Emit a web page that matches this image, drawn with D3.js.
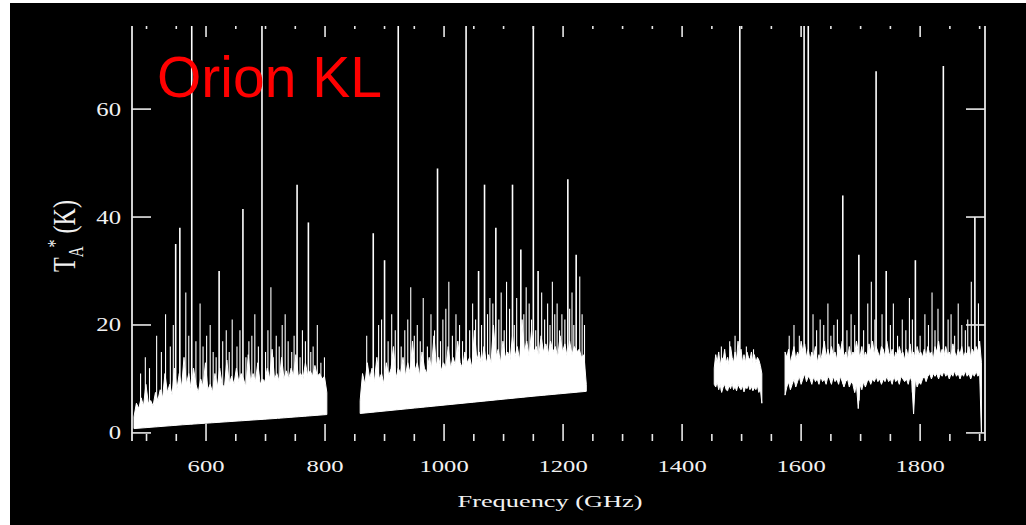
<!DOCTYPE html>
<html><head><meta charset="utf-8">
<script src="https://cdn.jsdelivr.net/npm/d3@7"></script>
<style>
html,body{margin:0;padding:0;background:#fff;}
svg{display:block;}
</style></head>
<body>
<svg id="chart" width="1026" height="525"></svg>
<script>
// ---------------- data ----------------
const chartTitle = "Orion KL";
const xTitle = "Frequency (GHz)";
const xMajorTicks = [600, 800, 1000, 1200, 1400, 1600, 1800];
const xMinorTicks = [500, 550, 650, 700, 750, 850, 900, 950, 1050, 1100, 1150, 1250, 1300, 1350, 1450, 1500, 1550, 1650, 1700, 1750, 1850, 1900];
const yTicks = [0, 20, 40, 60];
const freqDomain = [475.6, 1909];   // GHz
const tempDomain = [-1.5, 75.4];    // K

// Band 1 (≈480–800 GHz): line-forest envelope on a regular channel grid
const band1Start = 479, band1Step = 4;
const band1Top = [3, 5.5, 4.5, 6.5, 5, 9, 5.5, 6, 5, 7.5, 6, 8, 6.5, 11, 7.5, 9, 7, 12, 8, 11,
  8.5, 14, 9, 11, 8, 12, 9, 7.5, 10, 8.5, 13, 8, 9, 7.5, 11, 8.5, 12, 9, 8.5, 13.5,
  9, 10.5, 9, 12, 9.5, 11, 10, 8.5, 14.5, 9.5, 11, 9.5, 13, 9, 10, 9.5, 12, 10, 15.5, 10,
  11, 9.5, 14, 10, 11.5, 10, 12, 10.5, 14.5, 10.5, 11, 10, 13, 10.5, 11.5, 10.5, 12.5, 10.5, 11, 10,
  10.5, 7.5];
const band1Base = [[479, 0.8], [560, 1.5], [640, 2.1], [720, 2.7], [803, 3.4]];
const band1Lines = [[490, 11], [498, 14], [505, 12], [517, 18], [525, 15], [532, 22], [540, 16], [545, 20],
  [549, 35], [556, 38], [566, 26], [571, 18], [576, 120], [583, 17], [590, 24], [595, 16], [601, 18],
  [607, 20], [612, 15], [617, 14], [622, 30], [628, 17], [634, 19], [639, 15], [644, 21], [652, 16],
  [657, 19], [662, 41.5], [667, 14], [672, 17], [677, 18], [682, 22], [688, 16], [694, 120], [700, 15],
  [704, 19], [709, 27], [713, 14], [718, 18], [723, 16], [728, 20], [733, 22], [738, 17], [744, 15],
  [748, 18], [753, 46], [758, 14], [762, 19], [767, 17], [772, 39], [776, 15], [780, 16], [787, 20],
  [793, 13], [799, 14]];

// Band 2 (≈860–1240 GHz)
const band2Start = 859, band2Step = 4;
const band2Top = [6, 11, 9, 13, 10, 12, 9.5, 14, 10, 11, 9, 13, 10.5, 12, 16, 10, 12, 11, 14, 10.5,
  13, 11, 17, 11.5, 13, 10.5, 15, 12, 11, 14, 12, 18, 12.5, 14, 11.5, 13, 12, 16, 12, 14,
  12.5, 17, 13, 12, 15, 13, 14, 12, 19, 13.5, 15, 12.5, 16, 13, 14.5, 13, 20, 14, 15.5, 13,
  17, 14, 15, 13.5, 18, 14, 16, 13.5, 21, 15, 17, 14, 19, 15, 16, 14, 18, 15, 16.5, 14.5,
  17, 15, 16, 14, 18, 15, 16.5, 14, 17, 14.5, 16, 15, 15.5, 14, 14.5, 9];
const band2Base = [[859, 3.6], [950, 4.6], [1050, 5.7], [1150, 6.8], [1239, 7.7]];
const band2Lines = [[870, 18], [881, 37], [890, 20], [895, 21], [900, 32], [906, 17], [912, 22], [918, 19],
  [923, 120], [928, 16], [934, 19], [939, 21], [944, 27], [950, 18], [955, 20], [960, 17], [965, 25],
  [972, 16], [978, 22], [984, 19], [989, 49], [994, 17], [998, 21], [1003, 23], [1008, 28], [1014, 18],
  [1020, 22], [1026, 20], [1031, 17], [1037, 120], [1043, 19], [1048, 24], [1053, 21], [1058, 30],
  [1063, 20], [1068, 46], [1073, 22], [1077, 25], [1082, 24], [1087, 38], [1092, 21], [1096, 26],
  [1101, 19], [1105, 28], [1110, 23], [1115, 46], [1118, 20], [1122, 25], [1129, 34], [1134, 22],
  [1138, 27], [1143, 24], [1147, 21], [1150, 120], [1154, 19], [1158, 30], [1164, 26], [1169, 21],
  [1174, 24], [1178, 20], [1182, 28], [1186, 22], [1190, 24], [1194, 19], [1198, 22], [1203, 21],
  [1208, 47], [1211, 23], [1215, 26], [1218, 20], [1222, 33], [1228, 29], [1232, 22], [1236, 20]];

// Band 3 (≈1455–1535 GHz): upper and lower noise envelopes
const band3Start = 1454, band3Step = 2.5;
const band3Top = [12, 14.5, 13, 15, 12.5, 14, 13.5, 15.5, 13, 14, 12.5, 16, 14, 13, 15, 13.5, 17, 14,
  15.5, 13, 14.5, 13, 15, 14, 13.5, 15, 13, 14.5, 13, 14, 13.5, 12.5, 11];
const band3Bottom = [9, 8.5, 9.5, 8, 9, 7.5, 8.5, 9, 8, 7.8, 8.8, 8.2, 9.2, 8, 8.6, 7.8, 9, 8.4,
  8, 8.8, 7.6, 8.5, 8.2, 9, 8, 8.6, 7.8, 8.4, 8, 8.8, 7.5, 8.2, 5.5];
const band3Lines = [[1466, 16], [1480, 17], [1489, 18], [1497, 120], [1508, 16], [1520, 15.5]];

// Band 4 (≈1575–1905 GHz)
const band4Start = 1573, band4Step = 3;
const band4Top = [15, 14, 15.5, 13, 14.5, 16, 13.5, 15, 14, 17, 15, 16.5, 14, 15.5, 13.5, 15, 14, 16, 13, 14.5,
  13.5, 15, 17, 14, 15.5, 14, 16, 14.5, 15, 13.5, 16.5, 15, 17, 14, 15, 13.5, 16, 14, 15, 14.5,
  17, 15, 14, 16, 13.5, 15, 14, 16.5, 15, 17, 14.5, 16, 15, 14, 16, 15.5, 14, 17, 15, 14,
  15.5, 13.5, 15, 14, 16, 14.5, 15, 13.5, 15.5, 14, 16.5, 14, 15, 13.5, 16, 14.5, 15, 14, 15.5, 14,
  16, 14.5, 15, 13.5, 16, 15, 17, 14.5, 15.5, 14, 16, 14.5, 15, 14, 16.5, 15, 14, 15.5, 14.5, 16,
  14, 15, 14.5, 16, 14, 15.5, 14.5, 16, 15, 17, 13];
const band4Bottom = [7, 8.5, 9.5, 8, 9, 10, 8.5, 9.5, 10.5, 9, 10, 11, 9.5, 10.5, 10, 9, 10.5, 9.5, 10, 9,
  10.5, 9.5, 10, 9, 10.5, 10, 9, 10.5, 9.5, 10, 9, 10.5, 9.5, 8.5, 9.5, 10, 8.5, 9.5, 9, 7.5,
  9, 4.5, 9, 8, 9.5, 8.5, 9.5, 10, 9, 10, 9.5, 10.5, 9.5, 10, 9, 10, 9.5, 10.5, 9.5, 10,
  9, 10.5, 9.5, 10, 9, 10.5, 10, 9.5, 10, 9, 10.5, 9.5, 3.5, 10, 8.5, 9.5, 9, 10, 10.5, 9.5,
  10.5, 11, 10, 11, 10.5, 11, 10, 11, 10.5, 11.5, 10.5, 11, 10, 11, 10.5, 11.5, 10.5, 11, 10, 11,
  10.5, 11.5, 10.5, 11, 10, 11, 10.5, 11.5, 10.5, 11, 0];
const band4Lines = [[1580, 18], [1588, 20], [1597, 18], [1605, 120], [1612, 120], [1620, 22], [1626, 19],
  [1632, 21], [1638, 20], [1645, 24], [1650, 18], [1655, 20], [1661, 21], [1670, 44], [1677, 19], [1684, 22],
  [1690, 20], [1697, 33], [1705, 19], [1712, 24], [1718, 28], [1724, 21], [1726, 67], [1736, 22], [1743, 30],
  [1750, 20], [1755, 24], [1762, 18], [1770, 21], [1776, 19], [1782, 25], [1787, 21], [1792, 32], [1800, 18],
  [1808, 22], [1814, 20], [1820, 26], [1825, 19], [1830, 23], [1839, 68], [1847, 21], [1852, 22], [1858, 18],
  [1864, 24], [1870, 20], [1876, 19], [1880, 21], [1886, 28], [1892, 40], [1898, 24]];

// ---------------- drawing ----------------
const W = 1026, H = 525;
const plot = {left: 132, right: 985, top: 26, bottom: 441};
const svg = d3.select("#chart");

svg.append("rect").attr("width", W).attr("height", H).attr("fill", "#ffffff");
svg.append("rect").attr("x", 10).attr("y", 3).attr("width", W - 10).attr("height", H - 3).attr("fill", "#000000");

const x = d3.scaleLinear().domain(freqDomain).range([plot.left, plot.right]);
const y = d3.scaleLinear().domain(tempDomain).range([plot.bottom, plot.top]);

svg.append("defs").append("clipPath").attr("id", "plotClip")
  .append("rect").attr("x", plot.left).attr("y", plot.top)
  .attr("width", plot.right - plot.left).attr("height", plot.bottom - plot.top);

const gridPairs = (start, step, vals) => vals.map((v, i) => [start + i * step, v]);

const bands = [
  {hi: gridPairs(band1Start, band1Step, band1Top), lo: band1Base, lines: band1Lines},
  {hi: gridPairs(band2Start, band2Step, band2Top), lo: band2Base, lines: band2Lines},
  {hi: gridPairs(band3Start, band3Step, band3Top), lo: gridPairs(band3Start, band3Step, band3Bottom), lines: band3Lines},
  {hi: gridPairs(band4Start, band4Step, band4Top), lo: gridPairs(band4Start, band4Step, band4Bottom), lines: band4Lines}
];

const spec = svg.append("g").attr("clip-path", "url(#plotClip)");
const outline = d3.line().x(d => x(d[0])).y(d => y(d[1]));

bands.forEach(b => {
  const poly = b.hi.concat(b.lo.slice().reverse());
  spec.append("path")
    .attr("d", outline(poly) + "Z")
    .attr("fill", "#ffffff")
    .attr("stroke", "#ffffff")
    .attr("stroke-width", 1)
    .attr("stroke-linejoin", "round");

  // continuum level under each line, following the lower edge of the band
  const floor = d3.scaleLinear()
    .domain(b.lo.map(d => d[0]))
    .range(b.lo.map(d => d[1]))
    .clamp(true);

  spec.selectAll(null).data(b.lines).join("line")
    .attr("x1", d => x(d[0])).attr("x2", d => x(d[0]))
    .attr("y1", d => y(floor(d[0])))
    .attr("y2", d => y(d[1]))
    .attr("stroke", "#ffffff")
    .attr("stroke-width", d => d[1] >= 30 ? 1.6 : 1.1);
});

// frame: vertical axes
const axisColor = "#e8e8e8";
[plot.left, plot.right].forEach(px => {
  svg.append("line").attr("x1", px).attr("x2", px)
    .attr("y1", plot.top).attr("y2", plot.bottom)
    .attr("stroke", axisColor).attr("stroke-width", 1.8);
});

// x ticks (inward, bottom and top)
const tickG = svg.append("g").attr("stroke", axisColor).attr("stroke-width", 1.6);
xMajorTicks.forEach(v => {
  tickG.append("line").attr("x1", x(v)).attr("x2", x(v)).attr("y1", plot.bottom).attr("y2", plot.bottom - 17);
  tickG.append("line").attr("x1", x(v)).attr("x2", x(v)).attr("y1", plot.top).attr("y2", plot.top + 11);
});
xMinorTicks.forEach(v => {
  tickG.append("line").attr("x1", x(v)).attr("x2", x(v)).attr("y1", plot.bottom).attr("y2", plot.bottom - 7);
  tickG.append("line").attr("x1", x(v)).attr("x2", x(v)).attr("y1", plot.top).attr("y2", plot.top + 3);
});
// y ticks (inward, left and right)
yTicks.forEach(v => {
  tickG.append("line").attr("x1", plot.left).attr("x2", plot.left + 19).attr("y1", y(v)).attr("y2", y(v));
  tickG.append("line").attr("x1", plot.right).attr("x2", plot.right - 19).attr("y1", y(v)).attr("y2", y(v));
});

// tick labels
const serif = "'Liberation Serif', 'DejaVu Serif', serif";
const textColor = "#f2f2f2";
xMajorTicks.forEach(v => {
  svg.append("text")
    .attr("transform", `translate(${x(v)},472) scale(1.45,1)`)
    .attr("text-anchor", "middle")
    .attr("font-family", serif).attr("font-size", 17)
    .attr("fill", textColor)
    .text(v);
});
yTicks.forEach(v => {
  svg.append("text")
    .attr("transform", `translate(121,${y(v) + 6.5}) scale(1.3,1)`)
    .attr("text-anchor", "end")
    .attr("font-family", serif).attr("font-size", 19)
    .attr("fill", textColor)
    .text(v);
});

// axis titles
svg.append("text")
  .attr("transform", "translate(550,507) scale(1.55,1)")
  .attr("text-anchor", "middle")
  .attr("font-family", serif).attr("font-size", 17)
  .attr("fill", textColor)
  .text(xTitle);

const yt = svg.append("text")
  .attr("transform", "translate(75,236) scale(1.35,1) rotate(-90)")
  .attr("text-anchor", "middle")
  .attr("font-family", serif).attr("font-size", 24)
  .attr("fill", textColor);
yt.append("tspan").text("T");
yt.append("tspan").attr("font-size", 15).attr("dy", 6).text("A");
yt.append("tspan").attr("font-size", 16).attr("dy", -16).attr("dx", -1).text("*");
yt.append("tspan").attr("dy", 10).text(" (K)");

// title
svg.append("text")
  .attr("x", 157).attr("y", 97)
  .attr("font-family", "'Liberation Sans', Arial, sans-serif")
  .attr("font-size", 57)
  .attr("fill", "#ff0000")
  .text(chartTitle);
</script>
</body></html>
